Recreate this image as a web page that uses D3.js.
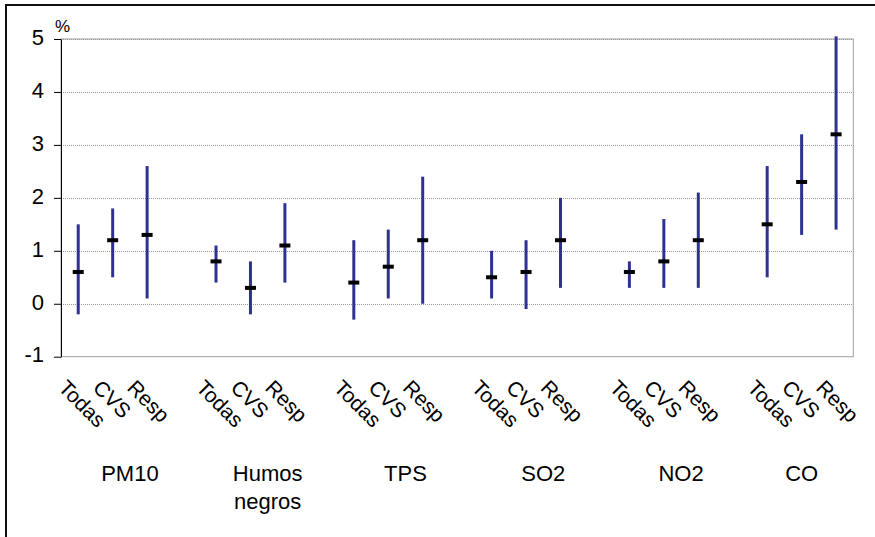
<!DOCTYPE html>
<html><head><meta charset="utf-8">
<script src="https://cdn.jsdelivr.net/npm/d3@7"></script>
<style>body{margin:0;background:#fff}svg{font-family:"Liberation Sans",Arial,sans-serif;display:block}</style>
</head><body><svg id="c" width="875" height="537"></svg>
<script>
const groups = ["PM10", "Humos negros", "TPS", "SO2", "NO2", "CO"];
const subgroups = ["Todas", "CVS", "Resp"];
const central = [[0.6, 1.2, 1.3], [0.8, 0.3, 1.1], [0.4, 0.7, 1.2], [0.5, 0.6, 1.2], [0.6, 0.8, 1.2], [1.5, 2.3, 3.2]];
const lower   = [[-0.2, 0.5, 0.1], [0.4, -0.2, 0.4], [-0.3, 0.1, 0.0], [0.1, -0.1, 0.3], [0.3, 0.3, 0.3], [0.5, 1.3, 1.4]];
const upper   = [[1.5, 1.8, 2.6], [1.1, 0.8, 1.9], [1.2, 1.4, 2.4], [1.0, 1.2, 2.0], [0.8, 1.6, 2.1], [2.6, 3.2, 5.05]];
const yTicks = [-1, 0, 1, 2, 3, 4, 5];

const svg = d3.select("#c");
const L = 61, R = 853.3, T = 39, B = 356.7;

// slot keys: 3 subgroups + blank separator between groups
const keys = [];
groups.forEach((g, i) => {
  subgroups.forEach(s => keys.push(g + "|" + s));
  if (i < groups.length - 1) keys.push(g + "|");
});
const x = d3.scaleBand().domain(keys).range([L, R]).padding(0);
const cx = k => x(k) + x.bandwidth() / 2;
const y = d3.scaleLinear().domain([-1, 5]).range([B, T]);

// outer frame
svg.append("rect").attr("x", 6).attr("y", 5).attr("width", 1000).attr("height", 1000)
  .attr("fill", "none").attr("stroke", "#111").attr("stroke-width", 2);

// plot border
svg.append("rect").attr("x", L).attr("y", T).attr("width", R - L).attr("height", B - T)
  .attr("fill", "none").attr("stroke", "#a0a0a0").attr("stroke-width", 1);

// gridlines
svg.append("g").selectAll("line").data(yTicks.filter(v => v > -1))
  .join("line")
  .attr("x1", L).attr("x2", R)
  .attr("y1", d => Math.round(y(d)) + 0.5).attr("y2", d => Math.round(y(d)) + 0.5)
  .attr("stroke", "#999").attr("stroke-dasharray", "1,1");

// y axis
const ya = svg.append("g").attr("transform", `translate(${L},0)`)
  .call(d3.axisLeft(y).tickValues(yTicks).tickSize(7).tickSizeOuter(0).tickPadding(10).tickFormat(d => String(d)));
ya.select(".domain").attr("stroke", "#000");
ya.selectAll(".tick line").attr("stroke", "#000");
ya.selectAll(".tick text").attr("font-size", 22).attr("fill", "#000").attr("dy", "0.24em")
  .attr("font-family", "Liberation Sans, Arial, sans-serif");

svg.append("text").attr("x", 55).attr("y", 32).attr("font-size", 17).text("%");

// error bars
const items = [];
groups.forEach((g, i) => subgroups.forEach((s, j) => items.push({
  k: g + "|" + s, s, c: central[i][j], lo: lower[i][j], hi: upper[i][j]
})));

svg.append("g").selectAll("line").data(items).join("line")
  .attr("x1", d => cx(d.k)).attr("x2", d => cx(d.k))
  .attr("y1", d => y(d.lo)).attr("y2", d => y(d.hi))
  .attr("stroke", "#2e3192").attr("stroke-width", 3);

svg.append("g").selectAll("rect").data(items).join("rect")
  .attr("x", d => cx(d.k) - 5.5).attr("y", d => y(d.c) - 2)
  .attr("width", 11).attr("height", 4).attr("fill", "#000");

// rotated subgroup labels
svg.append("g").selectAll("text").data(items).join("text")
  .attr("transform", d => `translate(${cx(d.k) - 21},389) rotate(45)`)
  .attr("font-size", 21).attr("text-anchor", "start").text(d => d.s);

// group labels
groups.forEach((g, i) => {
  const first = x(g + "|" + subgroups[0]);
  const lastKey = i < groups.length - 1 ? g + "|" : g + "|" + subgroups[subgroups.length - 1];
  const end = x(lastKey) + x.bandwidth();
  const t = svg.append("text").attr("x", (first + end) / 2).attr("y", 481)
    .attr("font-size", 22).attr("text-anchor", "middle");
  const words = g.split(" ");
  words.forEach((w, wi) => t.append("tspan").attr("x", (first + end) / 2).attr("dy", wi ? 28 : 0).text(w));
});
</script></body></html>
